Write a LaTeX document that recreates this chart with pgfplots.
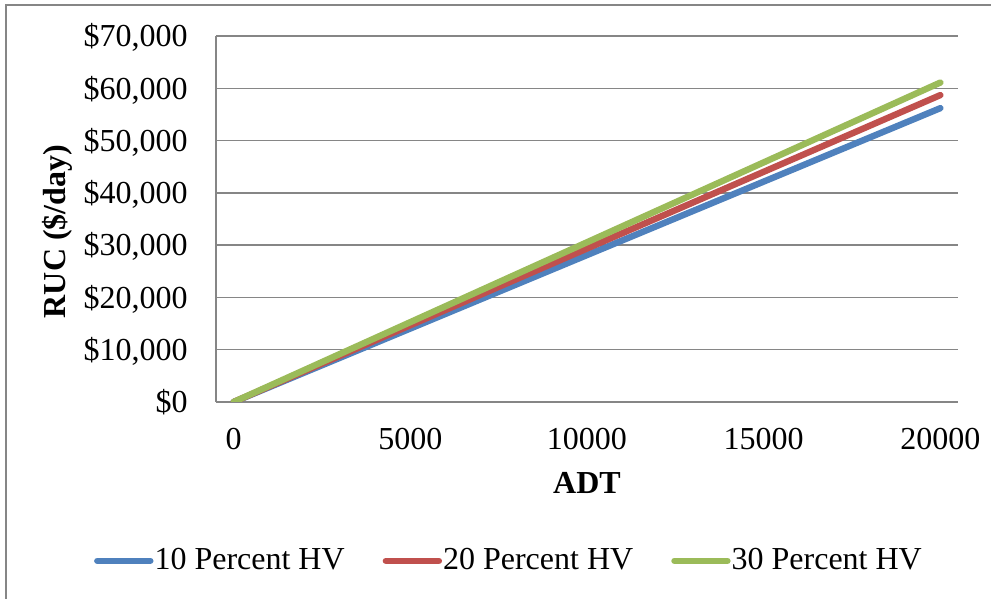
\documentclass[border=0pt]{standalone}
\usepackage{fontspec}
\setmainfont{Liberation Serif}
\usepackage{pgfplots}
\pgfplotsset{compat=1.18}
\definecolor{s1}{RGB}{79,129,189}
\definecolor{s2}{RGB}{192,80,77}
\definecolor{s3}{RGB}{155,187,89}
\definecolor{gridc}{RGB}{134,134,134}
\begin{document}
\begin{tikzpicture}
\path[use as bounding box] (-108pt,-98.5pt) rectangle (387.5pt,201pt);
\draw[gridc, line width=0.75pt] (-105pt,-98.5pt) -- (-105pt,198.5pt) -- (387.5pt,198.5pt);
\begin{axis}[
 at={(0,0)}, anchor=south west,
 width=371pt, height=183pt, scale only axis,
 xmin=-500, xmax=20500, ymin=0, ymax=70000,
 scaled ticks=false,
 xtick={0,5000,10000,15000,20000},
 xticklabels={0,5000,10000,15000,20000},
 ytick={0,10000,20000,30000,40000,50000,60000,70000},
 yticklabels={{\$0},{\$10,000},{\$20,000},{\$30,000},{\$40,000},{\$50,000},{\$60,000},{\$70,000}},
 major tick length=0pt,
 axis x line*=bottom, axis y line*=left,
 axis line style={gridc, line width=0.75pt, -},
 ymajorgrids, grid style={gridc, line width=0.75pt},
 tick label style={font=\fontsize{16}{19}\selectfont, inner sep=0pt},
 yticklabel style={anchor=base east, xshift=-14pt, yshift=-5.4pt},
 xticklabel style={anchor=north, yshift=-13pt},
 xlabel={ADT}, ylabel={RUC (\$/day)},
 label style={font=\fontsize{16}{19}\selectfont\bfseries, inner sep=0pt},
 xlabel style={at={(axis description cs:0.5,-0.1913)}, anchor=north},
 ylabel style={at={(axis description cs:-0.2143,0.466)}, anchor=center},
 legend columns=3,
 legend style={draw=none, fill=none, at={(axis description cs:0.3935,-0.434)}, anchor=center,
   font=\fontsize{16}{19}\selectfont,
   /tikz/every odd column/.append style={column sep=0.5pt},
   /tikz/every even column/.append style={column sep=19pt},
   nodes={inner sep=0pt}},
 legend image code/.code={\draw[#1, line cap=round] (0pt,0pt) -- (26.5pt,0pt);},
]
\addplot[s1, line width=3.2pt, line cap=round] coordinates {(0,0) (20000,56200)};
\addplot[s2, line width=3.2pt, line cap=round] coordinates {(0,0) (20000,58700)};
\addplot[s3, line width=3.2pt, line cap=round] coordinates {(0,0) (20000,61100)};
\legend{10 Percent HV, 20 Percent HV, 30 Percent HV}
\end{axis}
\end{tikzpicture}
\end{document}
